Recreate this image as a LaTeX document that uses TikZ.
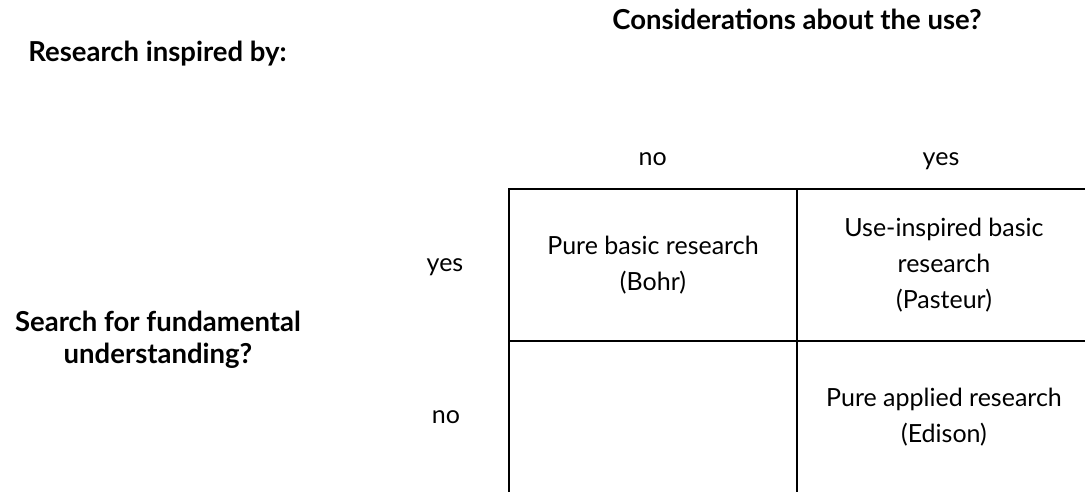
\documentclass[tikz,border=0pt]{standalone}
\usepackage{fontspec}
\setmainfont{Lato}
\usetikzlibrary{positioning}
\tikzstyle{head} = [font=\fontsize{27.5}{32}\selectfont\bfseries, align=center]
\tikzstyle{answer} = [font=\fontsize{25}{36}\selectfont, anchor=base]
\tikzstyle{cell} = [rectangle, draw=black, line width=1.6pt, minimum width=288pt, minimum height=152pt, outer sep=0pt, align=center, font=\fontsize{25}{36}\selectfont]

\begin{document}
\begin{tikzpicture}[x=1pt, y=-1pt]
		\path[use as bounding box, clip] (0,0) rectangle (1085,491);
		\node (research) [head, anchor=base] at (157.5,61.7) {Research inspired by:};
		\node (uses) [head, anchor=base] at (797,29.3) {Considerations about the use?};
		\node (fund) [head] at (158,340) {Search for fundamental\\understanding?};

		\node (useno) [answer] at (652.7,165.7) {no};
		\node (useyes) [answer] at (941,165.7) {yes};
		\node (fundyes) [answer] at (445,271.7) {yes};
		\node (fundno) [answer] at (446,423) {no};

		\node (bohr) [cell] at (653,265) {Pure basic research\\(Bohr)};
		\node (pasteur) [cell, minimum width=294pt, right=0pt of bohr] {Use-inspired basic\\research\\(Pasteur)};
		\node (blank) [cell, below=0pt of bohr] {};
		\node (edison) [cell, minimum width=294pt, right=0pt of blank] {Pure applied research\\(Edison)};
	\end{tikzpicture}
\end{document}
